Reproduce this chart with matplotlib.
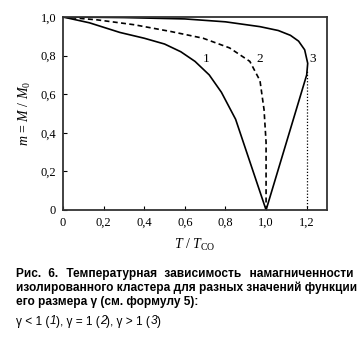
import matplotlib
matplotlib.use("Agg")
import matplotlib.pyplot as plt
from matplotlib.font_manager import FontProperties, findfont
from matplotlib.ft2font import FT2Font

plt.rcParams["font.family"] = "Liberation Serif"
plt.rcParams["mathtext.fontset"] = "custom"
plt.rcParams["mathtext.rm"] = "Liberation Serif"
plt.rcParams["mathtext.it"] = "Liberation Serif:italic"

# curve 1: gamma < 1
x1 = [0, 0.13, 0.28, 0.40, 0.50, 0.58, 0.65, 0.72, 0.78, 0.85, 1.0]
y1 = [1.0, 0.97, 0.92, 0.89, 0.86, 0.82, 0.77, 0.70, 0.61, 0.47, 0.0]
# curve 2: gamma = 1
x2 = [0, 0.17, 0.35, 0.53, 0.69, 0.82, 0.92, 0.97, 0.99, 1.0, 1.0]
y2 = [1.0, 0.985, 0.96, 0.925, 0.89, 0.84, 0.77, 0.67, 0.52, 0.35, 0.0]
# curve 3: gamma > 1
x3 = [0, 0.30, 0.60, 0.80, 0.97, 1.06, 1.12, 1.16, 1.19, 1.205, 1.20, 1.0]
y3 = [1.0, 0.997, 0.99, 0.975, 0.95, 0.93, 0.905, 0.875, 0.83, 0.76, 0.70, 0.0]
x3_drop = 1.2
y3_drop = 0.72

xticks = [0, 0.2, 0.4, 0.6, 0.8, 1.0, 1.2]
xticklabels = ["0", "0,2", "0,4", "0,6", "0,8", "1,0", "1,2"]
yticks = [0, 0.2, 0.4, 0.6, 0.8, 1.0]
yticklabels = ["0", "0,2", "0,4", "0,6", "0,8", "1,0"]

curve_labels = ["1", "2", "3"]
label_x = [0.706, 0.968, 1.23]
label_y = [0.78, 0.78, 0.78]

caption_lines = [
    "Рис. 6. Температурная зависимость намагниченности",
    "изолированного кластера для разных значений функции",
]
caption_last = "его размера γ (см. формулу 5):"
legend_parts = [("γ < 1 (", "normal"), ("1", "italic"), ("), γ = 1 (", "normal"),
                ("2", "italic"), ("), γ > 1 (", "normal"), ("3", "italic"), (")", "normal")]

fig = plt.figure(figsize=(3.59, 3.38), dpi=100)
W, H = 359, 338
ax = fig.add_axes([63 / W, 1 - 210 / H, 264 / W, 193 / H])

ax.plot(x1, y1, color="black", lw=1.2)
ax.plot(x2, y2, color="black", lw=1.2, ls=(0, (3, 2)))
ax.plot(x3, y3, color="black", lw=1.2)
ax.plot([x3_drop, x3_drop], [0, y3_drop], color="black", lw=0.9, ls=(0, (1, 1.5)))

for t, x, y in zip(curve_labels, label_x, label_y):
    ax.text(x, y, t, fontsize=9.5, ha="center", va="center")

ax.set_xlim(0, 1.3)
ax.set_ylim(0, 1.0)
ax.set_xticks(xticks)
ax.set_xticklabels(xticklabels, fontsize=9)
ax.set_yticks(yticks)
ax.set_yticklabels(yticklabels, fontsize=9)
ax.tick_params(direction="in", length=3, width=0.8, pad=5, top=False, right=False)
for s in ax.spines.values():
    s.set_linewidth(1.3)
    s.set_color("#333333")

ax.set_ylabel(r"$m$ = $M$ / $M_{\rm 0}$", fontsize=10, labelpad=5)
ax.set_xlabel(r"$T$ / $T_{\rm CO}$", fontsize=10, labelpad=6)

# caption: each line is one text, stretched to both edges with extra spaces
fig.canvas.draw()
renderer = fig.canvas.get_renderer()
left, right = 16, 353.5
cap_size = 8.6
bold = FontProperties(family="Liberation Sans", size=cap_size, weight="bold")


def width(s, prop):
    a = renderer.get_text_width_height_descent("a" + s + "a", prop, ismath=False)[0]
    b = renderer.get_text_width_height_descent("aa", prop, ismath=False)[0]
    return a - b


has_hair = FT2Font(findfont(bold)).get_char_index(0x200A) != 0
filler = "\u200a" if has_hair else " "
fill_w = width(filler, bold)


def justified(line, ypix):
    words = line.split()
    base = width(" ".join(words), bold)
    extra = (right - left - base) / (len(words) - 1)
    out = words[0]
    done = 0.0
    for i, w in enumerate(words[1:], start=1):
        n = int(round((extra * i - done) / fill_w))
        done += n * fill_w
        out += " " + filler * max(n, 0) + w
    fig.text(left / W, 1 - ypix / H, out, va="baseline", ha="left", fontproperties=bold)


justified(caption_lines[0], 277.5)
justified(caption_lines[1], 291)
fig.text(left / W, 1 - 304.5 / H, caption_last, va="baseline", ha="left",
         fontproperties=bold)

x = left
for txt, style in legend_parts:
    prop = FontProperties(family="Liberation Sans", size=cap_size, style=style)
    fig.text(x / W, 1 - 324.5 / H, txt, va="baseline", ha="left", fontproperties=prop)
    x += width(txt, prop)

fig.savefig("out.png", dpi=100)
